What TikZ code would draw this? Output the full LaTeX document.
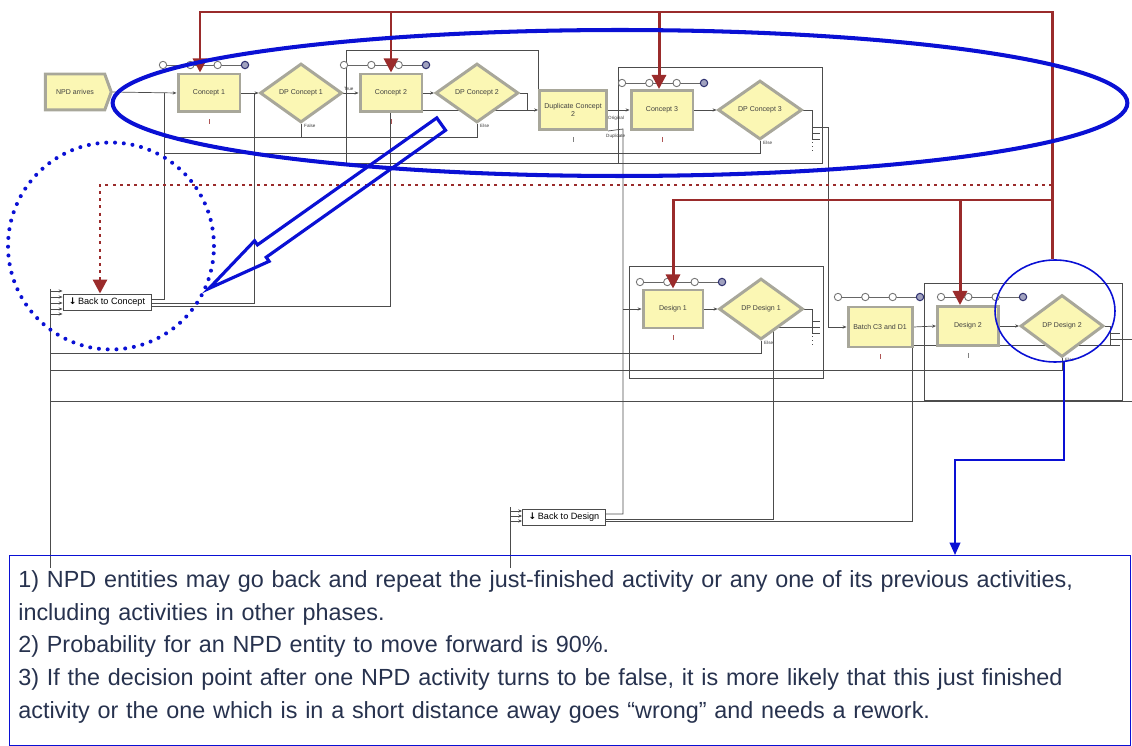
\documentclass[tikz,border=0pt]{standalone}
\usepackage{fontspec}
\setmainfont{Liberation Sans}
\newfontfamily\flechas{DejaVu Sans}
\usepackage{tikz}
\usetikzlibrary{arrows.meta,calc,backgrounds,shapes.geometric,shapes.arrows,shapes.symbols}
\definecolor{crema}{HTML}{FBF7B4}
\definecolor{marco}{HTML}{A8A79A}
\definecolor{granate}{HTML}{9A2B2B}
\definecolor{azul}{HTML}{0A10D4}
\definecolor{tinta}{HTML}{27324E}
\definecolor{cola}{HTML}{2E3070}

% cola de espera: tres circulos abiertos y uno oscuro
\newcommand{\colaespera}[2]{%
  \draw[black!60, line width=0.5pt] (#1,#2) -- ++(82,0);
  \foreach \q in {0,1,2}
    \draw[black!55, line width=0.5pt, fill=white] (#1+\q*27.33,#2) circle[radius=2.1pt];
  \draw[cola, line width=0.6pt, fill=cola!45] (#1+82,#2) circle[radius=2.1pt];}

\begin{document}
\begin{tikzpicture}[x=0.02cm, y=-0.02cm, >=Stealth,
    bloque/.style={draw=marco, line width=1.7pt, fill=crema, font=\fontsize{4}{4.5}\selectfont,
                   text=black!75, align=center, inner sep=1pt},
    decision/.style={bloque, diamond, inner sep=0pt},
    ruta/.style={draw=black!70, fill=white, line width=0.5pt, font=\fontsize{5.2}{6}\selectfont,
                 minimum height=0.32cm, inner sep=1pt},
    linea/.style={black!70, line width=0.4pt},
    flechita/.style={linea, -{Stealth[length=2.2pt, width=1.8pt]}},
    etiq/.style={font=\fontsize{2.6}{3}\selectfont, text=black!80, inner sep=0.5pt},
    rojo/.style={granate, line width=1.7pt, line cap=rect},
    rojoflecha/.style={rojo, -{Triangle[length=8pt, width=8pt]}},
    nota/.style={draw=azul, line width=0.7pt}]
  \useasboundingbox (0,0) rectangle (1132,746);

  % fase de concepto
  \node[bloque, signal, signal to=east, signal pointer angle=140, minimum width=1.32cm, minimum height=0.72cm] (llega) at (75,92) {NPD arrives};
  \node[bloque, minimum width=1.24cm, minimum height=0.76cm] (c1) at (209,93) {Concept 1};
  \node[decision, minimum width=1.64cm, minimum height=1.18cm] (dpc1) at (301,93) {DP Concept 1};
  \node[bloque, minimum width=1.24cm, minimum height=0.76cm] (c2) at (391,93) {Concept 2};
  \node[decision, minimum width=1.66cm, minimum height=1.18cm] (dpc2) at (477,93) {DP Concept 2};
  \node[bloque, minimum width=1.34cm, minimum height=0.78cm] (dup) at (573,110) {Duplicate Concept\\2};
  \node[bloque, minimum width=1.24cm, minimum height=0.78cm] (c3) at (662,110) {Concept 3};
  \node[decision, minimum width=1.68cm, minimum height=1.18cm] (dpc3) at (760,110) {DP Concept 3};
  % fase de diseno
  \node[bloque, minimum width=1.2cm, minimum height=0.76cm] (d1) at (673,309) {Design 1};
  \node[decision, minimum width=1.68cm, minimum height=1.22cm] (dpd1) at (761,309) {DP Design 1};
  \node[bloque, minimum width=1.28cm, minimum height=0.8cm] (lote) at (880,327) {Batch C3 and D1};
  \node[bloque, minimum width=1.22cm, minimum height=0.78cm] (d2) at (968,326) {Design 2};
  \node[decision, minimum width=1.66cm, minimum height=1.24cm] (dpd2) at (1062,326) {DP Design 2};
  % rutas de vuelta
  \node[ruta, minimum width=1.76cm] (vueltac) at (107,302) {{\flechas\bfseries ↓}\,Back to Concept};
  \node[ruta, minimum width=1.66cm] (vueltad) at (564,517) {{\flechas\bfseries ↓}\,Back to Design};

  % salidas de las decisiones
  \node[etiq, anchor=south west] (vtrue) at (343,92) {True};
  \node[etiq, anchor=west] (vfalse) at (303,126) {False};
  \node[etiq, anchor=west] (velse1) at (479,126) {Else};
  \node[etiq, anchor=west] (velse2) at (762,143) {Else};
  \node[etiq, anchor=west] (velse3) at (763,343) {Else};
  \node[etiq, anchor=west] (velse4) at (1064,360) {Else};
  \node[etiq, anchor=west] (vorig) at (607,118) {Original};
  \node[etiq, anchor=west] (vdupl) at (605,136) {Duplicate};

  % nota
  \node[nota, minimum width=22.42cm, minimum height=3.8cm, anchor=north west] (nota) at (9,555) {};
  \node[anchor=north west, text width=21.9cm, align=left, font=\fontsize{13.3}{18.7}\selectfont,
        text=tinta, inner sep=0pt] (notatexto) at ($(nota.north west)+(9,15)$)
    {1) NPD entities may go back and repeat the just-finished activity or any one of its previous activities,\\
     including activities in other phases.\\
     2) Probability for an NPD entity to move forward is 90\%.\\
     3) If the decision point after one NPD activity turns to be false, it is more likely that this just finished\\
     activity or the one which is in a short distance away goes “wrong” and needs a rework.};

  \begin{scope}[on background layer]
    % submodelos
    \draw[linea] (346,163) -- (346,50) -- (538,50) -- (538,107);
    \draw[linea] (618,67) rectangle (822,163);
    \draw[linea] (346,163) -- (618,163);
    \draw[linea] (629,266) rectangle (823,378);
    \draw[linea] (924,283) rectangle (1122,400);
    \colaespera{163}{65}
    \colaespera{344}{65}
    \colaespera{622}{83}
    \colaespera{640}{282}
    \colaespera{838}{297}
    \colaespera{941}{297}
    % flujo de concepto
    \draw[flechita] (llega.east) -- (c1.west);
    \draw[flechita] (c1.east) -- (dpc1.west);
    \draw[flechita] (dpc1.east) -- (c2.west);
    \draw[flechita] (c2.east) -- (dpc2.west);
    \draw[flechita] (dpc2.east) -- (527,93) -- (527,110) -- (dup.west);
    \draw[flechita] (dup.east) -- (c3.west);
    \draw[flechita] (c3.east) -- (dpc3.west);
    \draw[linea] (dpc3.east) -- (812,110) -- (812,139);
    \foreach \yy in {127,133,139} \draw[linea] (812,\yy) -- (820,\yy);
    \draw[linea, dotted] (812,142) -- (812,152);
    \draw[flechita] (820,127) -- (828,127) -- (828,327) -- (lote.west);
    \draw[linea] (dpc1.south) -- (301,137);
    \draw[linea] (dpc2.south) -- (477,137) -- (164,137);
    \draw[linea] (dpc3.south) -- (760,153) -- (164,153);
    % flujo de diseno
    \draw[linea] (dup.south east) -- (623,129) -- (623,514) -- (vueltad.east |- 0,514);
    \draw[flechita] (623,309) -- (d1.west);
    \draw[flechita] (d1.east) -- (dpd1.west);
    \draw[linea] (dpd1.east) -- (812,309) -- (812,333);
    \foreach \yy in {321,327,333} \draw[linea] (812,\yy) -- (820,\yy);
    \draw[linea, dotted] (812,336) -- (812,347);
    \draw[linea] (812,327) -- (773,327) -- (773,519) -- (vueltad.east |- 0,519);
    \draw[linea] (dpd1.south) -- (761,353) -- (50,353);
    \draw[flechita] (lote.east) -- (d2.west);
    \draw[flechita] (d2.east) -- (dpd2.west);
    \draw[linea] (dpd2.east) -- (1110,326) -- (1110,345);
    \foreach \yy in {333,339,345} \draw[linea] (1110,\yy) -- (1120,\yy);
    \draw[linea] (1120,339) -- (1132,339);
    \draw[linea] (1110,345) -- (912,345) -- (912,521) -- (vueltad.east |- 0,521);
    \draw[linea] (dpd2.south) -- (1062,370) -- (50,370);
    \draw[linea] (1132,401) -- (50,401);
    % vuelta a concepto
    \draw[linea] (50,289) -- (50,568);
    \foreach \yy in {291,297,303,309,314} \draw[flechita] (50,\yy) -- (vueltac.west |- 0,\yy);
    \draw[linea] (vueltac.east |- 0,299) -- (164,299) -- (164,93);
    \draw[linea] (vueltac.east |- 0,303) -- (254,303) -- (254,93);
    \draw[linea] (vueltac.east |- 0,306) -- (390,306) -- (390,110) -- (527,110);
    % vuelta a diseno
    \draw[linea] (510,507) -- (510,568);
    \foreach \yy in {511,516,521} \draw[flechita] (510,\yy) -- (vueltad.west |- 0,\yy);
    % contadores
    \foreach \n in {c1,c2,c3,d1,lote}
      \draw[granate!80, line width=0.5pt] ($(\n.south)+(0,6)$) -- ++(0,5);
    \foreach \n in {dup,d2}
      \draw[black!50, line width=0.5pt] ($(\n.south)+(0,6)$) -- ++(0,5);
  \end{scope}

  % recursos compartidos
  \draw[rojo] (200,12) -- (1052,12) -- (1052,258);
  \draw[rojoflecha] (200,12) -- (200,0 |- c1.north);
  \draw[rojoflecha] (391,12) -- (391,0 |- c2.north);
  \draw[rojoflecha] (659,12) -- (659,0 |- c3.north);
  \draw[rojoflecha] (1052,200) -- (673,200) -- (d1.north);
  \draw[rojoflecha] (960,200) -- (960,0 |- d2.north);
  \draw[rojoflecha, dash pattern=on 1.7pt off 2.4pt, line cap=butt] (1052,185) -- (100,185) -- (100,0 |- vueltac.north);

  % marcas azules
  \node[draw=azul, line width=2.3pt, ellipse, minimum width=20.3cm, minimum height=2.92cm] (ovalo) at (620,103) {};
  \node[draw=azul, line width=2.3pt, ellipse, dash pattern=on 0pt off 5pt, line cap=round,
        minimum width=4.12cm, minimum height=4.14cm] (circulo) at (111,246) {};
  \node[draw=azul, line width=1.8pt, single arrow, rotate=215.3, minimum height=5.69cm, minimum width=0.44cm,
        inner sep=0.12cm, single arrow head extend=0.1cm, single arrow tip angle=22] (flechahueca) at (341,195) {};
  \node[draw=azul, line width=0.9pt, ellipse, minimum width=2.4cm, minimum height=2.04cm] (circdp2) at (1055,311) {};
  \draw[azul, line width=1.1pt, -{Triangle[length=7pt, width=6pt]}] (circdp2.-80) |- (955,460) -- (955,0 |- nota.north);
\end{tikzpicture}
\end{document}
